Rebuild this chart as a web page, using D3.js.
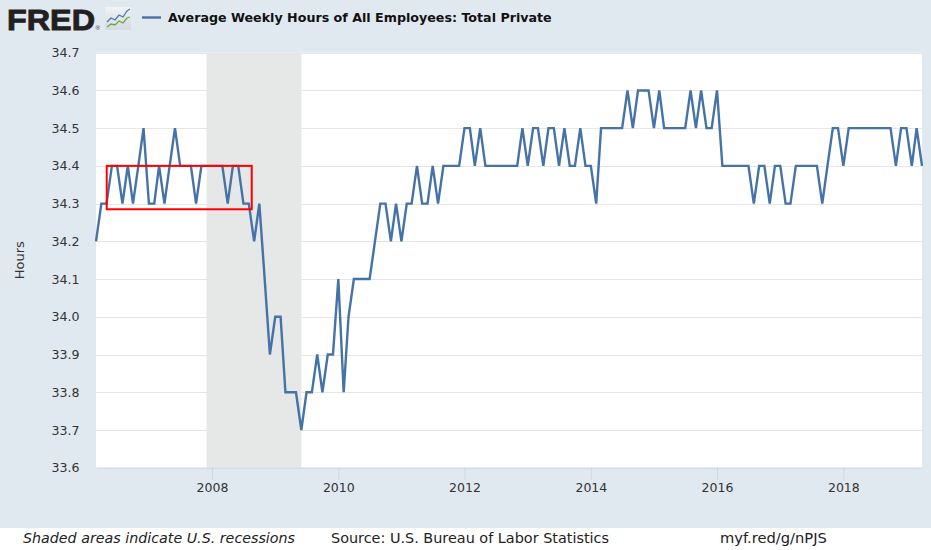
<!DOCTYPE html>
<html><head><meta charset="utf-8">
<script src="https://cdn.jsdelivr.net/npm/d3@7"></script>
<style>html,body{margin:0;padding:0;background:#fff}svg{display:block}</style>
</head><body>
<svg id="chart" width="931" height="550"></svg>
<script>
// ---------------- data ----------------
const seriesTitle = "Average Weekly Hours of All Employees: Total Private";
const yAxisTitle = "Hours";
const firstMonth = "2006-03-01";
const hours = [
  34.2,34.3,34.3,34.4,34.4,34.3,34.4,34.3,34.4,34.5,            // 2006 Mar-Dec
  34.3,34.3,34.4,34.3,34.4,34.5,34.4,34.4,34.4,34.3,34.4,34.4,  // 2007
  34.4,34.4,34.4,34.3,34.4,34.4,34.3,34.3,34.2,34.3,34.1,33.9,  // 2008
  34.0,34.0,33.8,33.8,33.8,33.7,33.8,33.8,33.9,33.8,33.9,33.9,  // 2009
  34.1,33.8,34.0,34.1,34.1,34.1,34.1,34.2,34.3,34.3,34.2,34.3,  // 2010
  34.2,34.3,34.3,34.4,34.3,34.3,34.4,34.3,34.4,34.4,34.4,34.4,  // 2011
  34.5,34.5,34.4,34.5,34.4,34.4,34.4,34.4,34.4,34.4,34.4,34.5,  // 2012
  34.4,34.5,34.5,34.4,34.5,34.5,34.4,34.5,34.4,34.4,34.5,34.4,  // 2013
  34.4,34.3,34.5,34.5,34.5,34.5,34.5,34.6,34.5,34.6,34.6,34.6,  // 2014
  34.5,34.6,34.5,34.5,34.5,34.5,34.5,34.6,34.5,34.6,34.5,34.5,  // 2015
  34.6,34.4,34.4,34.4,34.4,34.4,34.4,34.3,34.4,34.4,34.3,34.4,  // 2016
  34.4,34.3,34.3,34.4,34.4,34.4,34.4,34.4,34.3,34.4,34.5,34.5,  // 2017
  34.4,34.5,34.5,34.5,34.5,34.5,34.5,34.5,34.5,34.5,34.4,34.5,  // 2018
  34.5,34.4,34.5,34.4                                           // 2019 Jan-Apr
];
const yTicks = [33.6,33.7,33.8,33.9,34.0,34.1,34.2,34.3,34.4,34.5,34.6,34.7];
const xTickYears = [2008,2010,2012,2014,2016,2018];
const recessions = [["2007-12-01","2009-06-01"]];
const highlightBox = {start:"2006-05-02", end:"2008-08-18", low:34.285, high:34.4};
const footerNotes = ["Shaded areas indicate U.S. recessions","Source: U.S. Bureau of Labor Statistics","myf.red/g/nPJS"];

// ---------------- layout ----------------
const W = 931, H = 550;
const plot = {left:96, right:922, top:52.7, bottom:467.7};
const svg = d3.select("#chart");
const parse = d3.utcParse("%Y-%m-%d");
const start = parse(firstMonth);
const data = hours.map((v,i)=>({date:d3.utcMonth.offset(start,i), value:v}));

const x = d3.scaleUtc().domain(d3.extent(data,d=>d.date)).range([plot.left,plot.right]);
const y = d3.scaleLinear().domain([33.6,34.7]).range([plot.bottom,plot.top]);

function fitWidth(sel, target){
  const w = sel.node().getComputedTextLength();
  const fs = parseFloat(sel.attr("font-size"));
  sel.attr("font-size", (fs*target/w).toFixed(2));
}

// backgrounds
svg.append("rect").attr("width",W).attr("height",H).attr("fill","#fff");
svg.append("rect").attr("width",W).attr("height",528).attr("fill","#e1e9f0");
svg.append("rect").attr("x",plot.left).attr("y",plot.top)
  .attr("width",plot.right-plot.left).attr("height",plot.bottom-plot.top).attr("fill","#fff");

// gridlines
svg.append("g").selectAll("line").data(yTicks).join("line")
  .attr("x1",plot.left).attr("x2",plot.right)
  .attr("y1",d=>Math.round(y(d))+0.5).attr("y2",d=>Math.round(y(d))+0.5)
  .attr("stroke","#e6e6e6").attr("stroke-width",1);

// recessions
svg.append("g").selectAll("rect").data(recessions).join("rect")
  .attr("x",d=>x(parse(d[0]))).attr("width",d=>x(parse(d[1]))-x(parse(d[0])))
  .attr("y",plot.top).attr("height",plot.bottom-plot.top).attr("fill","#e6e7e7");

// y tick labels
svg.append("g").selectAll("text").data(yTicks).join("text")
  .attr("x",79.5).attr("y",d=>y(d)).attr("dy","0.36em")
  .attr("text-anchor","end").attr("font-family","DejaVu Sans").attr("font-size",12.6)
  .attr("fill","#333").text(d=>d.toFixed(1));

// y title
svg.append("text").attr("transform",`translate(24,${(plot.top+plot.bottom)/2}) rotate(-90)`)
  .attr("text-anchor","middle").attr("font-family","DejaVu Sans").attr("font-size",13)
  .attr("fill","#333").text(yAxisTitle);

// x axis
const xAxis = d3.axisBottom(x)
  .tickValues(xTickYears.map(yr=>new Date(Date.UTC(yr,0,1))))
  .tickFormat(d3.utcFormat("%Y")).tickSize(12).tickSizeOuter(0);
const gx = svg.append("g").attr("transform",`translate(0,${plot.bottom})`).call(xAxis);
gx.select(".domain").attr("stroke","#ccd6eb").attr("stroke-width",1);
gx.selectAll(".tick line").attr("stroke","#ccd6eb");
gx.selectAll(".tick text").attr("font-family","DejaVu Sans").attr("font-size",12.5)
  .attr("fill","#333").attr("dy","0.74em");

// series line
svg.append("path").datum(data)
  .attr("d",d3.line().x(d=>x(d.date)).y(d=>y(d.value)))
  .attr("fill","none").attr("stroke","#4572a7").attr("stroke-width",2.4)
  .attr("stroke-linejoin","miter");

// highlight annotation box
svg.append("rect")
  .attr("x",x(parse(highlightBox.start))).attr("y",y(highlightBox.high))
  .attr("width",x(parse(highlightBox.end))-x(parse(highlightBox.start)))
  .attr("height",y(highlightBox.low)-y(highlightBox.high))
  .attr("fill","none").attr("stroke","#ff0000").attr("stroke-width",2);

// header: FRED logo
svg.append("text").attr("x",7).attr("y",29.5)
  .attr("font-family","Liberation Sans").attr("font-weight","bold").attr("font-size",29.5)
  .attr("fill","#231f20").attr("stroke","#231f20").attr("stroke-width",0.9)
  .attr("textLength",88).attr("lengthAdjust","spacingAndGlyphs").text("FRED");
svg.append("text").attr("x",95.5).attr("y",30).attr("font-family","Liberation Sans")
  .attr("font-size",6).attr("fill","#231f20").text("®");
const icon = svg.append("g");
const grad = svg.append("defs").append("linearGradient").attr("id","ig").attr("x1",0).attr("y1",0).attr("x2",0).attr("y2",1);
grad.append("stop").attr("offset",0).attr("stop-color","#f2f4f5");
grad.append("stop").attr("offset",1).attr("stop-color","#d5dadd");
icon.append("rect").attr("x",105).attr("y",7).attr("width",26).attr("height",23).attr("fill","url(#ig)");
icon.append("polyline").attr("points","107,22 111,18 115,20 119,15 123,17 127,11 130,9")
  .attr("fill","none").attr("stroke","#4b78b5").attr("stroke-width",1.3);
icon.append("polyline").attr("points","107,27 111,24 115,25 119,21 123,23 127,18 130,17")
  .attr("fill","none").attr("stroke","#6aa84f").attr("stroke-width",1.3);

// legend + title
svg.append("line").attr("x1",142).attr("x2",161).attr("y1",17.5).attr("y2",17.5)
  .attr("stroke","#4572a7").attr("stroke-width",2.4);
const title = svg.append("text").attr("x",168).attr("y",22)
  .attr("font-family","DejaVu Sans").attr("font-weight","bold").attr("font-size",12.6)
  .attr("fill","#111").text(seriesTitle);
fitWidth(title, 384);

// footer
const footX = [23, 331, 720], footW = [272, 278, 107];
footerNotes.forEach((t,i)=>{
  const el = svg.append("text").attr("x",footX[i]).attr("y",543)
    .attr("font-family","DejaVu Sans").attr("font-size",13)
    .attr("font-style", i===0 ? "italic" : "normal")
    .attr("fill","#222").text(t);
  fitWidth(el, footW[i]);
});
</script>
</body></html>
